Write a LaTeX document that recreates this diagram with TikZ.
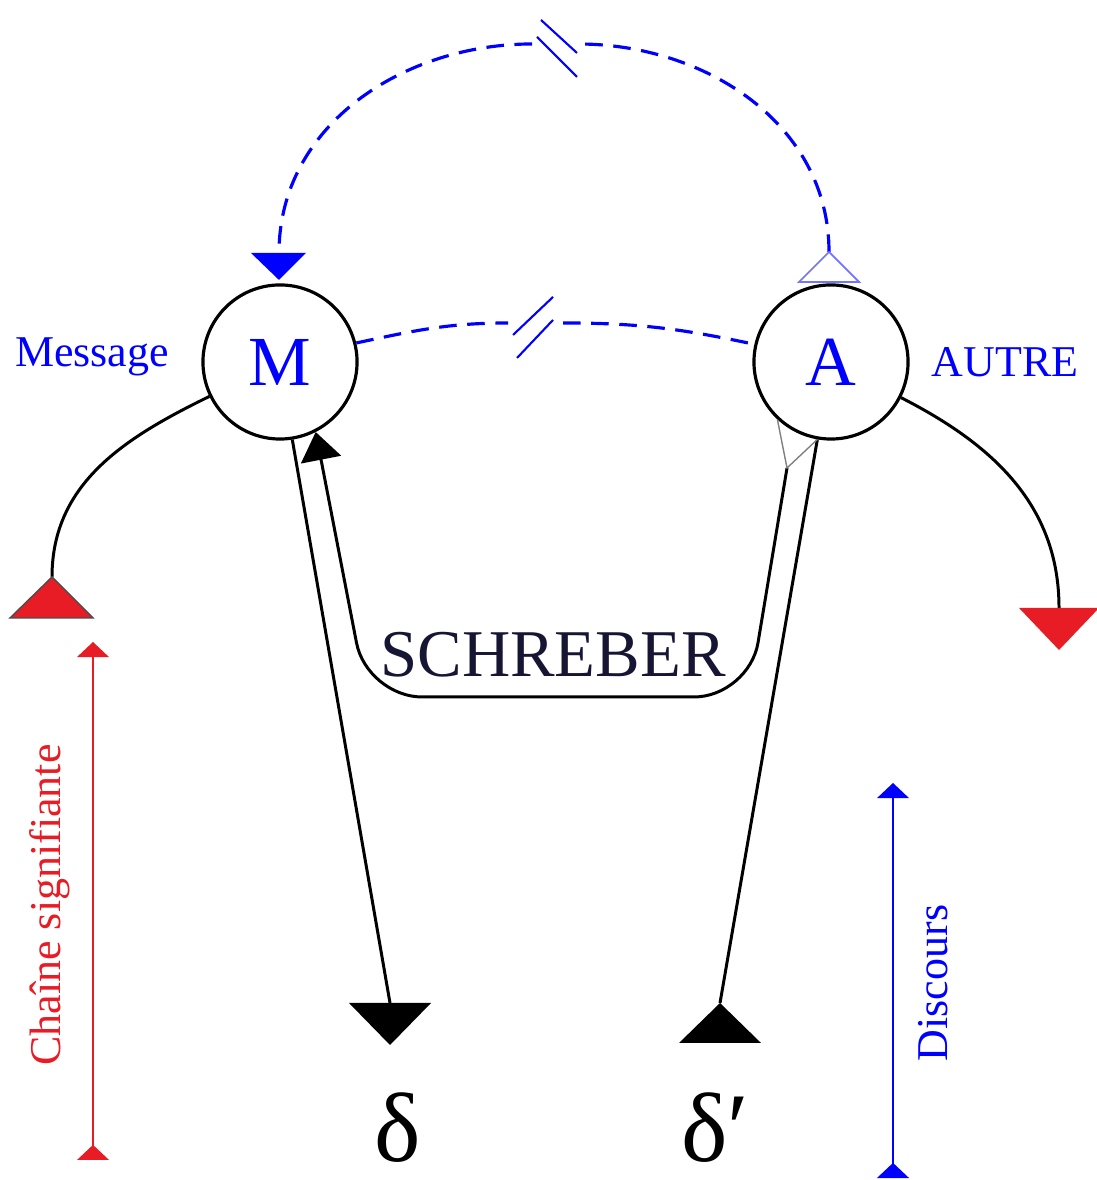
\documentclass[tikz,border=0pt]{standalone}
\usepackage{fontspec}
\setmainfont{Liberation Serif}
\usetikzlibrary{arrows.meta}
\definecolor{chainred}{RGB}{232,28,36}
\definecolor{schreberink}{RGB}{22,22,52}

\begin{document}
\begin{tikzpicture}[x=0.01cm,y=0.01cm,
  pole/.style={circle,draw,line width=0.9pt,minimum size=1.54cm,inner sep=0pt,text=blue,font=\fontsize{20}{22}\selectfont},
  lbl/.style={font=\fontsize{12.5}{14}\selectfont},
  dashlink/.style={blue,line width=0.9pt,dash pattern=on 5pt off 3pt},
  brk/.style={blue,line width=0.6pt},
  link/.style={line width=0.85pt},
  greek/.style={font=\fontsize{28}{30}\selectfont,inner sep=0pt}]
\useasboundingbox (0,0) rectangle (1096,1180);

% the two poles
\node[pole] (M) at (280,818) {M};
\node[pole] (A) at (831,818) {A};
\node[lbl,text=blue] (msg) at (92,823) {Message};
\node[lbl,text=blue] (autre) at (1005,818) {AUTRE};

% end points
\coordinate (mtop) at (279,927);
\coordinate (atop) at (829,928);
\coordinate (brkTL) at (532,1136);
\coordinate (brkTR) at (578,1136);
\coordinate (brkML) at (508,857);
\coordinate (brkMR) at (563,857);
\coordinate (redl) at (52,603);
\coordinate (redr) at (1059,572);
\coordinate (dtip) at (390,177);
\coordinate (dptip) at (720,177);
\coordinate (ujoin) at (787,712);

% dashed returns, broken
\draw[dashlink] (atop) to[out=90,in=0] (brkTR);
\draw[dashlink] (brkTL) to[out=180,in=90] (mtop);
\draw[brk] (541,1160) -- (577,1127);
\draw[brk] (537,1143) -- (577,1103);
\draw[dashlink] (M.14) to[out=12,in=180] (brkML);
\draw[dashlink] (brkMR) to[out=0,in=168] (A.167);
\draw[brk] (513,845) -- (553,883);
\draw[brk] (517,822) -- (553,860);

% side curves
\draw[link] (M.206) to[out=206,in=90] (redl);
\draw[link] (A.-27) to[out=-27,in=90] (redr);

% delta lines
\draw[link] (M.-81) -- (dtip);
\draw[link] (A.-100) -- (dptip);

% schreber loop
\draw[link,rounded corners=0.55cm,-{Triangle[width=11.5pt,length=8pt]}] (ujoin) -- (749,483) -- (367,483) -- (M.-63);
\draw[gray,line width=0.4pt] (A.-133) -- (ujoin) -- (A.-100);
\node[font=\fontsize{19}{21}\selectfont,text=schreberink] (schreber) at (553,525) {SCHREBER};

% triangles
\fill[blue] (mtop) ++(-28,0) -- ++(55,0) -- ++(-27,-27) -- cycle;
\draw[blue!55,fill=white,line width=0.5pt] (atop) -- ++(30,-30) -- ++(-60,0) -- cycle;
\fill[chainred,draw=black!70,line width=0.4pt] (redl) -- ++(41,-41) -- ++(-83,0) -- cycle;
\fill[chainred] (redr) ++(-40,0) -- ++(80,0) -- ++(-40,-42) -- cycle;
\fill (dtip) ++(-41,0) -- ++(82,0) -- ++(-41,-42) -- cycle;
\fill (dptip) -- ++(41,-40) -- ++(-82,0) -- cycle;

\node[greek] (delta) at (398,52) {δ};
\node[greek] (deltap) at (715,52) {δ′};

% axes
\coordinate (chainlo) at (93,20);
\coordinate (chainhi) at (93,538);
\coordinate (disclo) at (893,2);
\coordinate (dischi) at (893,397);
\draw[chainred,line width=0.6pt,{Triangle[reversed,width=9pt,length=4.3pt]}-{Triangle[width=9pt,length=4.3pt]}] (chainlo) -- (chainhi);
\draw[blue,line width=0.6pt,{Triangle[reversed,width=9pt,length=4.3pt]}-{Triangle[width=9pt,length=4.3pt]}] (disclo) -- (dischi);
\node[lbl,text=chainred,rotate=90] (chaine) at (50,275) {Chaîne signifiante};
\node[lbl,text=blue,rotate=90] (discours) at (933,197) {Discours};
\end{tikzpicture}
\end{document}
